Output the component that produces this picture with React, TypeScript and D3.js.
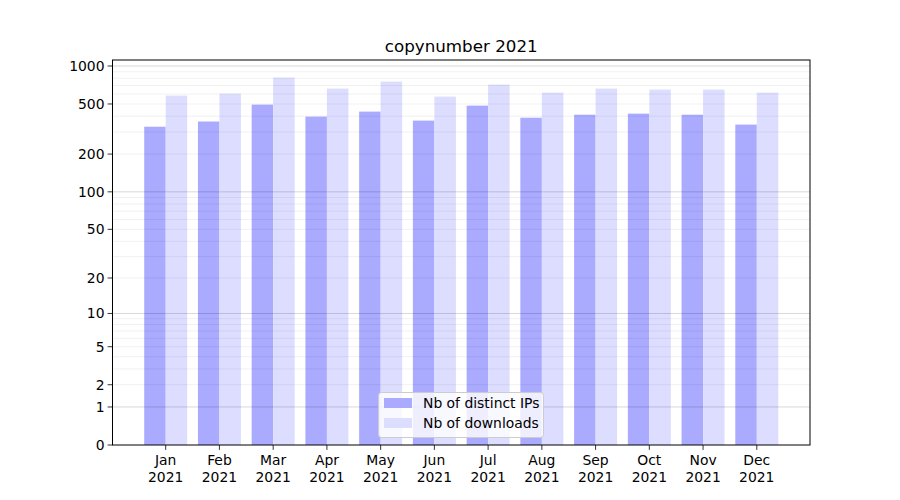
import React from "react";
import * as d3 from "d3";

const months = ["Jan", "Feb", "Mar", "Apr", "May", "Jun", "Jul", "Aug", "Sep", "Oct", "Nov", "Dec"];
const yearLabel = "2021";
const distinctIPs = [330, 363, 494, 397, 435, 369, 485, 389, 411, 419, 411, 343];
const downloads = [583, 604, 809, 662, 752, 572, 712, 615, 662, 650, 650, 615];
const yTicks = [0, 1, 2, 5, 10, 20, 50, 100, 200, 500, 1000];
const majorGrid = [1, 10, 100, 1000];
const minorGrid = [2, 3, 4, 5, 6, 7, 8, 9, 20, 30, 40, 50, 60, 70, 80, 90, 200, 300, 400, 500, 600, 700, 800, 900];
const seriesNames = ["Nb of distinct IPs", "Nb of downloads"];
const colors = ["#aaaaff", "#ddddff"];

const W = 900, H = 500;
const L = 112.5, R = 810, T = 60, B = 445;
const font = "DejaVu Sans, sans-serif";

export default function App() {
  const f = (v: number) => Math.log10(1 + v);
  const yLin = d3.scaleLinear().domain([0, 3.048]).range([B, T]);
  const y = (v: number) => yLin(f(v));
  const x = d3.scaleLinear().domain([-0.99, 11.99]).range([L, R]);
  const step = x(1) - x(0);
  const bw = step * 0.4;

  return (
    <svg width={W} height={H} style={{ position: "absolute", left: 0, top: 0 }} fontFamily={font}>
      <rect width={W} height={H} fill="#fff" />
      {months.map((m, i) => (
        <g key={m}>
          <rect x={x(i) - bw} y={y(distinctIPs[i])} width={bw} height={B - y(distinctIPs[i])} fill={colors[0]} />
          <rect x={x(i)} y={y(downloads[i])} width={bw} height={B - y(downloads[i])} fill={colors[1]} />
        </g>
      ))}
      {minorGrid.map((v) => (
        <line key={"mi" + v} x1={L} x2={R} y1={y(v)} y2={y(v)} stroke="#000" strokeOpacity={0.08} strokeWidth={0.8} />
      ))}
      {majorGrid.map((v) => (
        <line key={"ma" + v} x1={L} x2={R} y1={y(v)} y2={y(v)} stroke="#000" strokeOpacity={0.2} strokeWidth={0.8} />
      ))}
      <rect x={L} y={T} width={R - L} height={B - T} fill="none" stroke="#000" strokeWidth={1} />
      {yTicks.map((v) => (
        <g key={"yt" + v}>
          <line x1={L - 4.9} x2={L} y1={y(v)} y2={y(v)} stroke="#000" strokeWidth={0.8} />
          <text x={L - 8} y={y(v)} dy="0.35em" textAnchor="end" fontSize={13.9} fill="#000">{v}</text>
        </g>
      ))}
      {months.map((m, i) => (
        <g key={"xt" + m}>
          <line x1={x(i)} x2={x(i)} y1={B} y2={B + 4.9} stroke="#000" strokeWidth={0.8} />
          <text x={x(i)} y={B + 20} textAnchor="middle" fontSize={13.9} fill="#000">{m}</text>
          <text x={x(i)} y={B + 37} textAnchor="middle" fontSize={13.9} fill="#000">{yearLabel}</text>
        </g>
      ))}
      <text x={(L + R) / 2} y={T - 8} textAnchor="middle" fontSize={16.7} fill="#000">copynumber 2021</text>
      <g>
        <rect x={378.5} y={392.5} width={165} height={45} rx={3} fill="#fff" fillOpacity={0.8} stroke="#cccccc" strokeWidth={1} />
        {seriesNames.map((s, i) => (
          <g key={s}>
            <rect x={384} y={398 + i * 20} width={28} height={10} fill={colors[i]} />
            <text x={423} y={403 + i * 20} dy="0.35em" fontSize={13.9} fill="#000">{s}</text>
          </g>
        ))}
      </g>
    </svg>
  );
}
